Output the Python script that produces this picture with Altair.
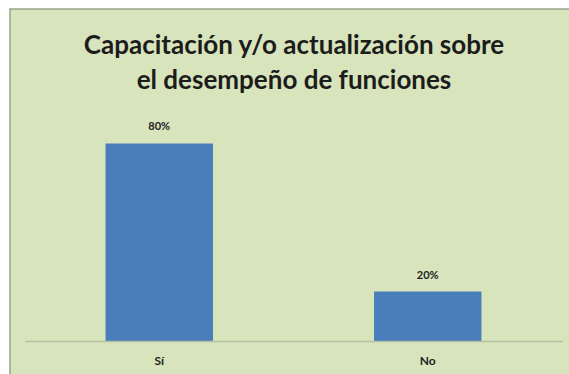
import altair as alt
import pandas as pd

categories = ["Sí", "No"]
values = [80, 20]
labels = ["80%", "20%"]
title_lines = ["Capacitación y/o actualización sobre", "el desempeño de funciones"]

df = pd.DataFrame({"cat": categories, "val": values, "lab": labels})
frame_df = pd.DataFrame({"k": [0]})

W, H = 537, 247
PL, PT = 25, 94

frame = alt.Chart(frame_df).mark_rect(
    fill="#d8e4bc", stroke="#98a48c", strokeWidth=1.5
).encode(
    x=alt.value(10 - PL), x2=alt.value(571 - PL),
    y=alt.value(9 - PT), y2=alt.value(376 - PT)
)

title = alt.Chart(frame_df).mark_text(
    text=title_lines, font="Lato", fontSize=26, fontWeight="bold",
    color="#1c1c1c", lineHeight=35, baseline="top", align="center"
).encode(x=alt.value(W / 2 + 0.5), y=alt.value(33 - PT))

x_enc = alt.X("cat:N", sort=categories, title=None,
              scale=alt.Scale(paddingInner=0.6, paddingOuter=0.3),
              axis=alt.Axis(labelAngle=0, ticks=False, domainColor="#b5bfa6",
                            domainWidth=1.5, labelFont="Lato", labelFontSize=12,
                            labelFontWeight="bold", labelColor="#222222",
                            labelPadding=14, zindex=1))
y_enc = alt.Y("val:Q", scale=alt.Scale(domain=[0, 100]), axis=None)

bars = alt.Chart(df).mark_bar(color="#4a7ebb").encode(x=x_enc, y=y_enc)
text = alt.Chart(df).mark_text(
    dy=-16, font="Lato", fontSize=11, fontWeight="bold", color="#222222"
).encode(x=x_enc, y=y_enc, text="lab:N")

chart = alt.layer(frame, title, bars, text).properties(
    width=W, height=H,
    autosize=alt.AutoSizeParams(type="none"),
    padding={"left": PL, "top": PT, "right": 569 - PL - W, "bottom": 374 - PT - H},
    background="white"
).configure_view(strokeWidth=0)

chart.save("out.html", embed_options={"renderer": "svg", "actions": False})
